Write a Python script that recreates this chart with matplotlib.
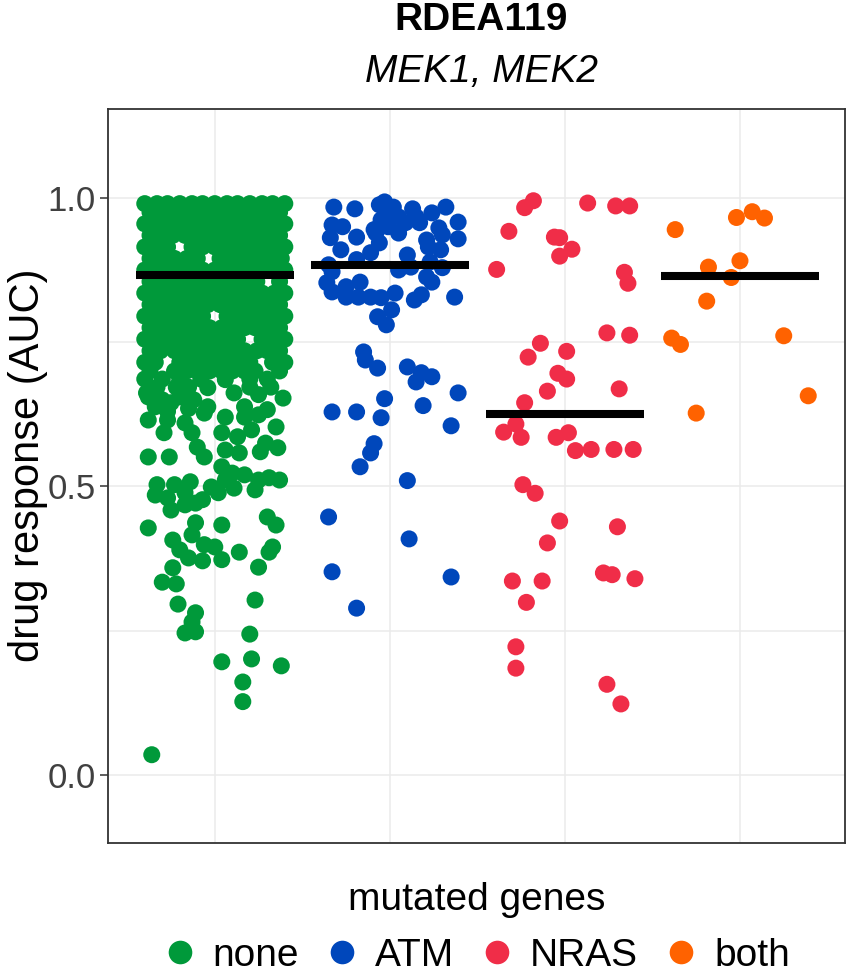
import numpy as np
import matplotlib
matplotlib.use("Agg")
import matplotlib.pyplot as plt
from matplotlib.lines import Line2D

plt.rcParams['font.family'] = ['Liberation Sans', 'DejaVu Sans']

groups = ['none', 'ATM', 'NRAS', 'both']
colors = ['#00993A', '#0047BB', '#F02D48', '#FF6200']
medians = [0.867, 0.883, 0.626, 0.865]

# wild-type lines: the packed upper block, row by row (AUC -> jitter offsets)
none_rows = {
    0.990: [-0.40, -0.33, -0.27, -0.20, -0.13, -0.07, 0.00, 0.07, 0.13, 0.20, 0.27, 0.33, 0.40],
    0.975: [-0.37, -0.30, -0.23, -0.16, -0.10, -0.03, 0.04, 0.10, 0.17, 0.23, 0.30, 0.37],
    0.955: [-0.40, -0.34, -0.26, -0.20, -0.13, -0.06, 0.01, 0.07, 0.14, 0.21, 0.27, 0.34, 0.40],
    0.935: [-0.37, -0.30, -0.24, -0.17, -0.09, -0.03, 0.04, 0.11, 0.17, 0.23, 0.31, 0.37],
    0.915: [-0.40, -0.33, -0.27, -0.13, -0.07, 0.00, 0.06, 0.13, 0.20, 0.26, 0.33, 0.40],
    0.895: [-0.37, -0.31, -0.23, -0.16, -0.10, 0.03, 0.10, 0.17, 0.23, 0.30, 0.38],
    0.875: [-0.40, -0.34, -0.27, -0.20, -0.14, -0.07, 0.00, 0.07, 0.13, 0.20, 0.27, 0.33, 0.40],
    0.855: [-0.37, -0.30, -0.24, -0.17, -0.10, -0.03, 0.03, 0.10, 0.17, 0.24, 0.37],
    0.835: [-0.40, -0.33, -0.26, -0.20, -0.13, -0.06, 0.00, 0.07, 0.14, 0.20, 0.27, 0.34, 0.40],
    0.815: [-0.37, -0.31, -0.23, -0.17, -0.10, -0.04, 0.03, 0.10, 0.16, 0.23, 0.30, 0.37],
    0.795: [-0.40, -0.34, -0.27, -0.20, -0.13, -0.07, 0.07, 0.13, 0.20, 0.26, 0.33, 0.40],
    0.775: [-0.37, -0.30, -0.24, -0.16, -0.10, -0.03, 0.04, 0.10, 0.17, 0.23, 0.30, 0.37],
    0.755: [-0.40, -0.33, -0.27, -0.20, -0.14, -0.07, 0.00, 0.07, 0.13, 0.27, 0.33, 0.40],
    0.735: [-0.37, -0.31, -0.23, -0.17, -0.10, -0.03, 0.04, 0.10, 0.17, 0.24, 0.30, 0.37],
    0.715: [-0.40, -0.34, -0.20, -0.13, -0.07, 0.00, 0.06, 0.13, 0.20, 0.33, 0.40],
    0.700: [-0.37, -0.23, -0.16, -0.10, -0.03, 0.04, 0.10, 0.17, 0.23, 0.37],
    0.686: [-0.40, -0.30, -0.20, -0.08, 0.20, 0.30],
}

# wild-type lines below the block
none_dx = [0.06, 0.11, 0.25, 0.39, -0.04, -0.25, -0.04, -0.34, 0.17, 0.30,
           -0.39, -0.33, -0.15, -0.38, -0.27, -0.17, -0.06, 0.06, 0.17, 0.25,
           0.35, -0.29, -0.13, 0.04, 0.13, 0.21, 0.29, -0.10, 0.06, 0.14,
           0.36, 0.26, -0.38, -0.26, -0.06, 0.04, 0.10, 0.17, 0.25, 0.37,
           0.31, 0.06, -0.33, -0.23, -0.14, -0.02, 0.23, -0.34, -0.27, -0.17,
           -0.07, 0.02, 0.11, -0.25, -0.17, -0.11, 0.30, -0.38, -0.11, 0.04,
           0.35, -0.13, -0.24, -0.06, 0.00, -0.20, -0.15, -0.07, 0.04, 0.14,
           0.33, 0.31, 0.25, -0.24, -0.30, -0.22, 0.23, -0.21, -0.11, -0.13,
           -0.17, -0.11, 0.20, 0.04, 0.21, 0.38, 0.16, 0.16, -0.36,
           -0.38, -0.30, -0.20, -0.12, -0.27, -0.15, -0.22, 0.20, 0.32]
none_y = [0.685, 0.662, 0.659, 0.653, 0.671, 0.645, 0.638, 0.638, 0.638, 0.633,
          0.662, 0.672, 0.672, 0.615, 0.615, 0.610, 0.627, 0.620, 0.620, 0.624,
          0.603, 0.593, 0.593, 0.593, 0.586, 0.598, 0.575, 0.568, 0.563, 0.558,
          0.567, 0.560, 0.551, 0.551, 0.551, 0.534, 0.523, 0.520, 0.511, 0.511,
          0.515, 0.511, 0.503, 0.503, 0.508, 0.499, 0.494, 0.485, 0.480, 0.489,
          0.477, 0.489, 0.497, 0.459, 0.468, 0.471, 0.447, 0.428, 0.437, 0.433,
          0.433, 0.416, 0.407, 0.399, 0.395, 0.390, 0.376, 0.371, 0.373, 0.386,
          0.395, 0.386, 0.360, 0.359, 0.334, 0.331, 0.303, 0.296, 0.281, 0.265,
          0.246, 0.248, 0.244, 0.196, 0.201, 0.189, 0.161, 0.127, 0.035,
          0.655, 0.650, 0.655, 0.650, 0.630, 0.635, 0.672, 0.672, 0.672]

atm_dx = [-0.32, -0.20, -0.06, -0.03, 0.02, 0.13, 0.24, 0.32, -0.33, -0.27,
          -0.34, -0.19, -0.09, -0.05, -0.01, 0.05, 0.09, 0.17, 0.28, 0.39,
          0.39, 0.21, 0.30, -0.06, -0.28, -0.11, 0.10, 0.22, 0.29, -0.19,
          -0.35, -0.33, 0.05, 0.12, 0.23, 0.30, 0.21, -0.36, -0.33, -0.25,
          -0.17, 0.24, -0.25, -0.18, -0.11, -0.05, 0.03, 0.14, 0.18, 0.37,
          0.01, -0.07, -0.02, -0.15, -0.14, -0.07, 0.10, 0.18, 0.24, 0.15,
          0.39, -0.03, -0.33, -0.19, -0.05, 0.19, 0.35, -0.09, -0.11, -0.17,
          0.10, -0.35, 0.11, -0.33, 0.35, -0.19, -0.01, -0.08, 0.05, 0.15]
atm_y = [0.984, 0.981, 0.988, 0.993, 0.984, 0.981, 0.974, 0.984, 0.953, 0.950,
         0.931, 0.932, 0.945, 0.962, 0.950, 0.939, 0.957, 0.957, 0.948, 0.958,
         0.929, 0.927, 0.936, 0.922, 0.910, 0.905, 0.901, 0.915, 0.910, 0.893,
         0.884, 0.872, 0.875, 0.880, 0.889, 0.879, 0.863, 0.853, 0.837, 0.846,
         0.854, 0.854, 0.828, 0.828, 0.828, 0.827, 0.835, 0.823, 0.832, 0.828,
         0.806, 0.794, 0.780, 0.733, 0.719, 0.705, 0.707, 0.697, 0.690, 0.681,
         0.662, 0.652, 0.629, 0.629, 0.619, 0.640, 0.605, 0.574, 0.558, 0.534,
         0.510, 0.447, 0.409, 0.352, 0.343, 0.289, 0.974, 0.939, 0.967, 0.967]

nras_dx = [-0.18, -0.23, 0.13, 0.29, 0.37, -0.32, -0.06, -0.03, 0.04, -0.03,
           -0.39, 0.34, 0.36, 0.24, 0.37, -0.14, -0.21, 0.01, -0.04, 0.01,
           -0.10, 0.31, -0.23, -0.28, -0.35, -0.25, -0.05, 0.02, 0.06, 0.15,
           0.28, 0.39, -0.24, -0.17, -0.03, 0.30, -0.10, -0.30, -0.13, 0.22,
           0.27, 0.40, -0.22, -0.28, -0.28, 0.24, 0.32]
nras_y = [0.995, 0.983, 0.991, 0.986, 0.986, 0.942, 0.932, 0.931, 0.911, 0.899,
          0.876, 0.871, 0.852, 0.766, 0.762, 0.748, 0.724, 0.734, 0.696, 0.686,
          0.665, 0.669, 0.645, 0.608, 0.594, 0.585, 0.585, 0.593, 0.562, 0.564,
          0.564, 0.564, 0.503, 0.488, 0.440, 0.430, 0.402, 0.336, 0.336, 0.350,
          0.347, 0.340, 0.299, 0.222, 0.185, 0.157, 0.123]

both_dx = [-0.37, -0.02, 0.07, 0.14, -0.18, 0.00, -0.05, -0.19, -0.39, -0.34, 0.25, 0.39, -0.25]
both_y = [0.945, 0.966, 0.976, 0.965, 0.880, 0.891, 0.862, 0.821, 0.757, 0.746, 0.761, 0.657, 0.627]

# unpack the packed block and join it with the rest of the wild-type points
block_dx = [dx for yv, row in none_rows.items() for dx in row]
block_y = [yv for yv, row in none_rows.items() for dx in row]
none_dx_all = block_dx + none_dx
none_y_all = block_y + none_y

group_dx = [none_dx_all, atm_dx, nras_dx, both_dx]
group_y = [none_y_all, atm_y, nras_y, both_y]

W, H = 847, 975
fig = plt.figure(figsize=(W / 100, H / 100), dpi=100)
ax = fig.add_axes([108 / W, 1 - 843 / H, (845 - 108) / W, (843 - 109) / H])

for i, (dx, yv, c) in enumerate(zip(group_dx, group_y, colors)):
    ax.scatter(i + 1 + np.array(dx), yv, s=150, color=c, edgecolors='none', zorder=2)

for i, m in enumerate(medians):
    ax.plot([i + 1 - 0.45, i + 1 + 0.45], [m, m], color='black', lw=5.8,
            solid_capstyle='butt', zorder=3)

ax.set_xlim(0.39, 4.6)
ax.set_ylim(-0.118, 1.154)
ax.set_xticks([1, 2, 3, 4])
ax.set_xticklabels([])
ax.set_yticks([0.0, 0.5, 1.0])
ax.set_yticklabels(['0.0', '0.5', '1.0'])
ax.set_yticks([0.25, 0.75], minor=True)
ax.tick_params(axis='x', length=0)
ax.tick_params(axis='y', which='major', length=5.8, width=1.1, color='#333333',
               labelsize=25, labelcolor='#404040', pad=3)
ax.tick_params(axis='y', which='minor', length=0)
ax.grid(which='both', color='#EBEBEB', lw=1.1, zorder=0)
ax.set_axisbelow(True)
for sp in ax.spines.values():
    sp.set_color('#333333')
    sp.set_linewidth(1.3)

fig.text(481 / W, 1 - 20 / H, 'RDEA119', ha='center', va='center',
         fontsize=28, fontweight='bold')
fig.text(481 / W, 1 - 72 / H, 'MEK1, MEK2', ha='center', va='center',
         fontsize=28, style='italic')
fig.text(28 / W, 1 - 465 / H, 'drug response (AUC)', ha='center', va='center',
         rotation=90, fontsize=30)

handles = [Line2D([], [], marker='o', ls='', color=c, markersize=17, markeredgewidth=0)
           for c in colors]
leg = fig.legend(handles, groups, title='mutated genes', loc='center',
                 bbox_to_anchor=(477 / W, 1 - 928 / H), ncol=4, frameon=False,
                 fontsize=28, title_fontsize=28, handlelength=0.8,
                 handletextpad=0.45, columnspacing=0.7, borderpad=0)

fig.savefig('out.png', dpi=100)
